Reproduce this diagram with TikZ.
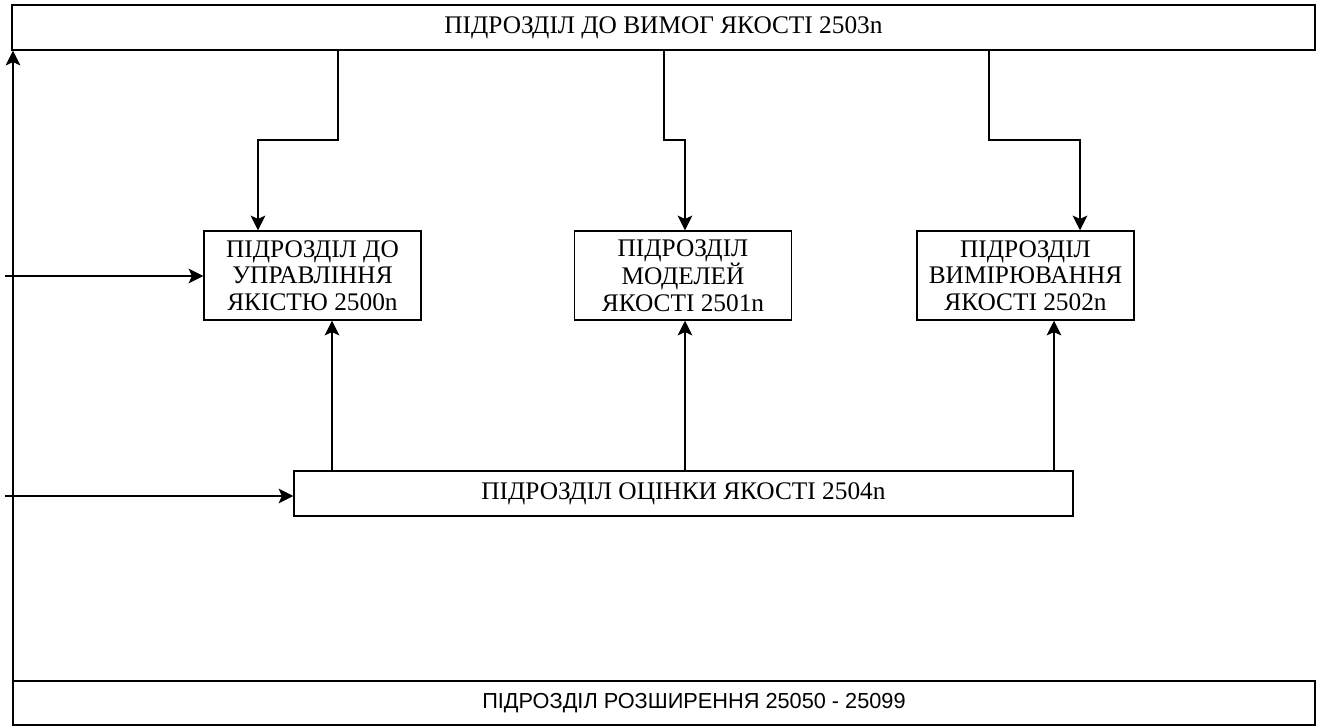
\documentclass[tikz,border=0pt]{standalone}
\usepackage{fontspec}
\setmainfont{Liberation Serif}
\newfontfamily\arialfont{Liberation Sans}
\usetikzlibrary{arrows.meta}

\begin{document}
\begin{tikzpicture}[
  x=0.75pt, y=-0.75pt,
  unitBox/.style={draw, line width=1.1pt, inner sep=0pt, align=center,
    font=\fontsize{19}{20}\selectfont},
  midBox/.style={unitBox, minimum width=162.75pt, minimum height=66.75pt},
  barBox/.style={unitBox, minimum height=33.75pt},
  conn/.style={line width=1.1pt, -{Stealth[length=11pt, width=11pt, inset=2.5pt]}},
]
\useasboundingbox (0,0) rectangle (1325,726);
% top and bottom bars
\node[barBox, minimum width=977.25pt] (req) at (663.5,27.5) {ПІДРОЗДІЛ ДО ВИМОГ ЯКОСТІ 2503n};
\node[barBox, minimum width=976.5pt, minimum height=33pt,
  font=\arialfont\fontsize{16.3}{18}\selectfont] (ext) at (664,703) {\hspace*{45pt}ПІДРОЗДІЛ РОЗШИРЕННЯ 25050 - 25099};
% middle row
\node[midBox] (mgmt) at (312.5,275.5) {ПІДРОЗДІЛ ДО\\УПРАВЛІННЯ\\ЯКІСТЮ 2500n};
\node[midBox] (model) at (683,275.5) {ПІДРОЗДІЛ\\МОДЕЛЕЙ\\ЯКОСТІ 2501n};
\node[midBox] (meas) at (1025.5,275.5) {ПІДРОЗДІЛ\\ВИМІРЮВАННЯ\\ЯКОСТІ 2502n};
\node[barBox, minimum width=584.25pt] (eval) at (683.5,493.5) {ПІДРОЗДІЛ ОЦІНКИ ЯКОСТІ 2504n};
% requirements down to the units
\draw[conn] (338,0 |- req.south) |- (258,140) -- (258,0 |- mgmt.north);
\draw[conn] (664,0 |- req.south) |- (685,140) -- (685,0 |- model.north);
\draw[conn] (989,0 |- req.south) |- (1080,140) -- (1080,0 |- meas.north);
% evaluation up to the units
\foreach \xx/\dst in {332/mgmt, 685/model, 1054/meas} {
  \draw[conn] (\xx,0 |- eval.north) -- (\xx,0 |- \dst.south);
}
% inputs from the left
\coordinate (lbot) at (13,726);
\coordinate (inTop) at (5,276);
\coordinate (inLow) at (5,496);
\draw[conn] (lbot) -- (lbot |- req.south);
\draw[conn] (inTop) -- (inTop -| mgmt.west);
\draw[conn] (inLow) -- (inLow -| eval.west);
\end{tikzpicture}
\end{document}
